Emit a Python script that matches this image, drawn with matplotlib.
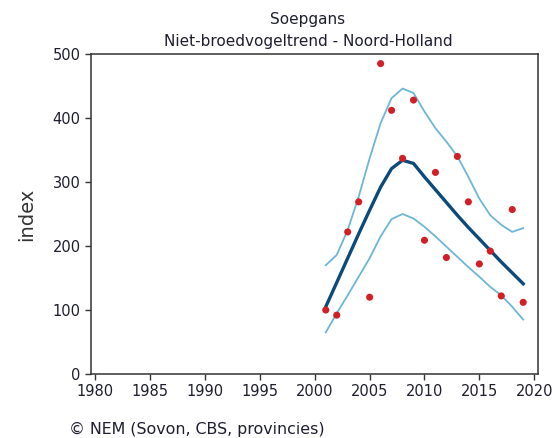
import numpy as np
import matplotlib
matplotlib.use('Agg')
import matplotlib.pyplot as plt

# Soepgans - niet-broedvogeltrend Noord-Holland
years = np.arange(2001, 2020)
counts = [100, 92, 222, 269, 120, 485, 412, 337, 428, 209,
          315, 182, 340, 269, 172, 192, 122, 257, 112]
trend = [105, 143, 181, 219, 256, 292, 321, 334, 329, 308,
         288, 268, 248, 229, 211, 193, 175, 158, 141]
upper = [170, 186, 225, 277, 337, 392, 431, 446, 439, 410,
         384, 363, 340, 308, 274, 248, 233, 222, 228]
lower = [65, 95, 123, 152, 181, 215, 242, 250, 243, 230,
         215, 199, 183, 167, 152, 136, 123, 105, 85]

xticks = np.arange(1980, 2021, 5)
yticks = np.arange(0, 501, 100)

txt = '#1e1e30'

f = plt.figure(figsize=(5.53, 4.38), dpi=100)
f.patch.set_facecolor('white')
ax = f.add_axes([0.1646, 0.1461, 0.8083, 0.7306])

# Confidence band and trend
ax.plot(years, upper, color='#6cb6d6', linewidth=1.3, zorder=2)
ax.plot(years, lower, color='#6cb6d6', linewidth=1.3, zorder=2)
ax.plot(years, trend, color='#0d4a7c', linewidth=2.4, zorder=3)

# Yearly indices
ax.scatter(years, counts, s=26, c='#d21f26', edgecolors='none', zorder=4)

ax.set_xlim(1979.6, 2020.35)
ax.set_ylim(0, 500)
ax.set_xticks(xticks)
ax.set_yticks(yticks)
ax.tick_params(direction='out', length=4.5, width=1, color='#333333',
               labelsize=10.5, labelcolor=txt, pad=3)
for s in ax.spines.values():
    s.set_color('#333333')
    s.set_linewidth(1.1)

ax.set_ylabel('index', fontsize=14, color='#333333', labelpad=12)

f.text(0.557, 0.9566, 'Soepgans', ha='center', va='center',
       fontsize=11, color=txt)
f.text(0.557, 0.9048, 'Niet-broedvogeltrend - Noord-Holland', ha='center',
       va='center', fontsize=11, color=txt)
f.text(0.125, 0.0205, '\u00a9 NEM (Sovon, CBS, provincies)', ha='left',
       va='center', fontsize=11.4, color=txt)

f.savefig('out.png', dpi=100, facecolor='white')
